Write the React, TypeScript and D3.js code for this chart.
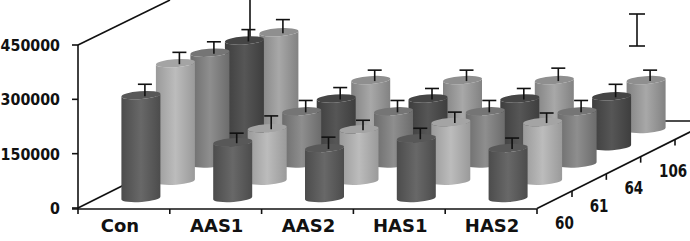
import React from "react";
import * as d3 from "d3";

const categories = ["Con", "AAS1", "AAS2", "HAS1", "HAS2"];
const depthLabels = ["60", "61", "64", "106"];
const yTicks = [0, 150000, 300000, 450000];
// rows, front to back
const row60 = [284000, 154000, 138000, 165000, 138000];
const row61 = [324500, 145000, 142000, 162000, 162000];
const row64 = [306000, 144000, 144000, 144000, 144000];
const row106a = [292000, 132000, 132000, 132000, 138000];
const row106b = [267000, 135000, 135000, 135000, 135000];
const err60 = [30000, 25000, 30000, 27500, 27500];
const err61 = [30000, 34000, 25000, 27500, 25000];
const err64 = [30000, 30000, 30000, 30000, 30000];
const err106a = [30000, 30000, 27500, 27500, 33000];
const err106b = [35000, 27500, 27500, 33000, 27500];
const rows = [row60, row61, row64, row106a, row106b];
const errs = [err60, err61, err64, err106a, err106b];
const rowColors = [
  ["#4c4c4c", "#686868", "#585858"],
  ["#9a9a9a", "#bcbcbc", "#a4a4a4"],
  ["#6c6c6c", "#8e8e8e", "#757575"],
  ["#3e3e3e", "#565656", "#454545"],
  ["#828282", "#a8a8a8", "#8f8f8f"],
];

const y = d3.scaleLinear().domain([0, 450000]).range([208, 45]);
const catX = d3.scaleLinear().domain([0, 5]).range([78, 537]);
const rowDX = d3.scaleLinear().domain([0, 4]).range([0, 138]);
const rowDY = d3.scaleLinear().domain([0, 4]).range([-10, -79]);
const depthLine = d3.scaleLinear().domain([537, 692]).range([208.5, 131]);
const depthTickX = d3.scaleLinear().domain([0, 3]).range([572, 675]);

const R = 19.5;
const RY = 4;
const TILT = 1.5;

export default function App() {
  const font = "'DejaVu Sans', sans-serif";
  const order = d3.range(rows.length).reverse();
  return (
    <svg width={690} height={241} style={{ position: "fixed", left: 0, top: 0, background: "#fff" }}>
      <defs>
        {rowColors.map((c, i) => (
          <linearGradient key={i} id={`g${i}`} x1="0" x2="1" y1="0" y2="0">
            <stop offset="0" stopColor={c[0]} />
            <stop offset="0.5" stopColor={c[1]} />
            <stop offset="1" stopColor={c[0]} />
          </linearGradient>
        ))}
      </defs>
      <g stroke="#111" strokeWidth={1.6} fill="none">
        <line x1={78} y1={45} x2={78} y2={209} />
        <line x1={78} y1={45} x2={170} y2={0} />
        <line x1={78} y1={208} x2={130} y2={182} />
        <line x1={72} y1={209} x2={537} y2={209} />
        <line x1={537} y1={208.5} x2={692} y2={131} />
        <line x1={650} y1={121} x2={690} y2={121} />
        <line x1={250} y1={0} x2={250} y2={40} />
        {yTicks.map((t) => (
          <line key={t} x1={72} x2={78} y1={y(t)} y2={y(t)} />
        ))}
        {d3.range(6).map((i) => (
          <line key={i} x1={catX(i)} x2={catX(i)} y1={209} y2={214} />
        ))}
        {depthLabels.map((_, i) => {
          const tx = depthTickX(i);
          return <line key={i} x1={tx} y1={depthLine(tx)} x2={tx} y2={depthLine(tx) + 6} />;
        })}
      </g>
      {order.map((r) =>
        rows[r].map((v, c) => {
          const cx = catX(c + 0.5) + 17 + rowDX(r);
          const base = y(0) + rowDY(r);
          const top = base - (y(0) - y(v));
          const cap = top - (y(0) - y(errs[r][c]));
          const side = `M${cx - R},${top + TILT} A${R},${RY} -4 0 0 ${cx + R},${top - TILT} L${cx + R},${base - TILT} A${R},${RY} -4 0 1 ${cx - R},${base + TILT} Z`;
          const lid = `M${cx - R},${top + TILT} A${R},${RY} -4 0 1 ${cx + R},${top - TILT} A${R},${RY} -4 0 1 ${cx - R},${top + TILT} Z`;
          return (
            <g key={`${r}-${c}`}>
              <path d={side} fill={`url(#g${r})`} />
              <path d={lid} fill={rowColors[r][2]} />
              <g stroke="#111" strokeWidth={1.6}>
                <line x1={cx + 4} x2={cx + 4} y1={top + 1} y2={cap} />
                <line x1={cx - 3} x2={cx + 11} y1={cap} y2={cap} />
              </g>
            </g>
          );
        })
      )}
      <g stroke="#111" strokeWidth={1.6}>
        <line x1={637} x2={637} y1={14} y2={46} />
        <line x1={629} x2={645} y1={14} y2={14} />
        <line x1={629} x2={645} y1={46} y2={46} />
      </g>
      <g fontFamily={font} fontWeight={700} fill="#111">
        {yTicks.map((t) => {
          const s = String(t);
          const w = s.length * 9.9;
          return (
            <text key={t} x={60 - w} y={y(t) + 6} fontSize={16} textLength={w} lengthAdjust="spacingAndGlyphs">{s}</text>
          );
        })}
        {categories.map((c, i) => (
          <text key={c} x={catX(i + 0.5) + (i === 0 ? -4 : 1)} y={232} textAnchor="middle" fontSize={18}>{c}</text>
        ))}
        {depthLabels.map((d, i) => (
          <text key={d} transform={`translate(${555 + i * 34.7},${229 - i * 17.3}) scale(0.75,1)`} fontSize={18}>{d}</text>
        ))}
      </g>
    </svg>
  );
}
